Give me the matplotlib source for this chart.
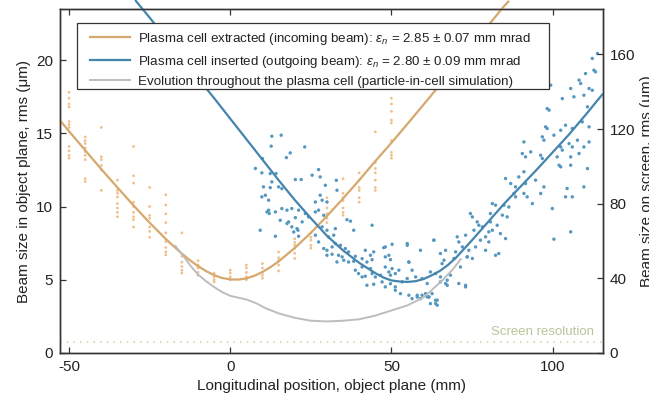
import matplotlib
matplotlib.use("Agg")
import matplotlib.pyplot as plt
from matplotlib.patches import Rectangle
from matplotlib.lines import Line2D
import numpy as np

plt.rcParams['font.family'] = ['Liberation Sans', 'DejaVu Sans']
plt.rcParams['mathtext.fontset'] = 'custom'
plt.rcParams['mathtext.rm'] = 'Liberation Sans'
plt.rcParams['mathtext.it'] = 'Liberation Sans:italic'
plt.rcParams['axes.unicode_minus'] = False

# ---------------- data (object-plane units, um) ----------------
# incoming beam (plasma cell extracted): measured spot sizes in columns
orange_pos = ([-50]*11 + [-45]*9 + [-40]*6 + [-35]*8 + [-30]*9 + [-25]*7 + [-20]*9 +
              [-15]*6 + [-10]*5 + [-5]*4 + [0]*4 + [5]*5 + [10]*5 + [15]*5 + [20]*6 +
              [25]*5 + [30]*6 + [35]*7 + [40]*6 + [45]*7 + [50]*9)
orange_size = [17.8, 17.4, 17.0, 16.8, 15.8, 15.6, 15.4, 14.1, 13.8, 13.5, 13.3,
               14.75, 14.5, 14.3, 14.0, 13.75, 13.5, 13.2, 11.9, 11.7,
               15.4, 13.4, 13.2, 12.8, 12.5, 11.1,
               11.8, 11.1, 10.9, 10.65, 10.2, 9.9, 9.6, 9.3,
               14.1, 12.1, 11.6, 10.3, 10.0, 9.6, 9.3, 9.1, 8.6,
               11.3, 10.0, 9.4, 9.2, 8.6, 8.3, 7.9,
               10.8, 10.1, 9.5, 8.9, 8.2, 7.6, 7.2, 6.9, 6.7,
               8.2, 6.6, 6.2, 5.9, 5.65, 5.45,
               6.3, 6.0, 5.8, 5.5, 5.3,
               5.45, 5.2, 5.0, 4.85,
               5.65, 5.45, 5.2, 5.0,
               6.0, 5.8, 5.5, 5.2, 5.0,
               6.1, 5.8, 5.5, 5.3, 5.1,
               6.9, 6.5, 6.3, 6.0, 5.6,
               7.8, 7.55, 7.35, 7.15, 6.8, 6.45,
               8.2, 7.9, 7.7, 7.35, 7.15,
               10.6, 10.3, 9.9, 9.5, 9.2, 8.9,
               11.9, 10.9, 10.6, 10.4, 9.9, 9.6, 9.4,
               12.3, 11.8, 11.3, 11.1, 10.6, 10.3,
               15.1, 13.0, 12.6, 12.3, 11.8, 11.3, 11.1,
               17.4, 17.0, 16.5, 15.9, 15.7, 14.5, 13.7, 13.5, 13.3]

# outgoing beam (plasma cell inserted): measured spot sizes
blue_pos = [12.9, 15.8, 12.7, 23.1, 18.6, 17.4, 10.0, 7.8, 9.8, 12.4, 14.2, 27.4, 25.4, 27.9,
            20.2, 22.0, 32.9, 12.9, 10.3, 12.4, 15.0, 16.0, 29.5, 33.1, 9.8, 10.9, 11.9, 27.9,
            28.5, 26.4, 30.0, 11.9, 14.0, 16.0, 17.6, 19.1, 21.2, 26.4, 27.4, 23.3, 20.2, 29.0,
            15.5, 18.1, 22.3, 24.3, 36.2, 37.3, 9.3, 19.1, 20.7, 19.7, 21.0, 28.5, 30.0, 32.6,
            38.3, 44.0, 14.0, 21.2, 26.4, 30.5, 32.1, 34.2, 27.4, 29.0, 30.0, 31.6, 32.6, 35.7,
            36.7, 41.9, 44.5, 47.6, 50.2, 30.0, 31.6, 33.6, 34.7, 38.8, 40.9, 43.5, 49.2, 54.9,
            33.1, 35.2, 36.7, 38.3, 42.4, 44.0, 49.7, 40.9, 43.5, 48.1, 50.2, 55.4, 38.8, 39.8,
            40.9, 41.9, 44.0, 45.0, 46.6, 49.2, 51.2, 56.4, 42.4, 44.5, 47.1, 48.1, 49.7, 51.2,
            53.3, 54.9, 57.5, 59.5, 51.2, 52.8, 55.4, 56.4, 58.0, 59.5, 60.6, 61.6,
            11.4, 12.1, 17.6,
            113.9, 112.3, 112.8, 113.3, 110.2, 108.2, 108.7, 111.3, 112.3, 105.6, 99.4, 106.6,
            109.7, 103.0, 98.3, 98.9, 110.8, 97.8, 98.3, 102.5, 104.0, 106.1, 109.2, 111.3,
            96.8, 97.3, 100.4, 91.1, 93.2, 90.6, 91.6, 96.3, 96.8, 102.5, 103.0, 105.1, 106.1,
            107.7, 109.7, 111.3, 101.4, 102.0, 102.5, 105.6, 105.6, 108.2, 110.8, 85.4, 87.0,
            88.5, 89.5, 91.1, 91.6, 88.0, 91.1, 94.7, 97.3, 96.3, 92.1, 93.7, 88.5, 104.5, 104.0,
            106.1, 109.7, 99.9, 81.3, 82.3, 80.7, 84.9, 86.4, 84.4, 85.9, 74.5, 75.1, 76.6, 77.1,
            78.2, 75.6, 80.7, 82.8, 80.2, 81.3, 83.8, 85.4, 105.6, 100.4, 70.4, 73.0, 70.9, 72.0,
            69.9, 74.0, 76.1, 73.5, 75.1, 69.4, 66.8, 65.2, 66.3, 65.7, 63.7, 65.2, 67.3, 68.3,
            70.9, 73.0, 66.8, 61.1, 62.6, 61.6, 62.1, 63.7, 64.2, 63.2, 79.2, 82.3, 83.3, 77.6,
            79.2, 80.2,
            62.1, 65.2, 67.3, 73.0, 71.4, 73.5, 63.1, 59.0, 55.4, 52.3, 49.7, 58.0, 59.0, 61.1,
            63.7, 64.2, 54.9, 48.1, 48.1]
blue_size = [14.8, 14.87, 14.12, 14.07, 13.66, 13.34, 13.27, 12.6, 12.3, 12.25, 12.25, 12.52,
             12.14, 12.02, 11.84, 11.84, 11.79, 11.68, 11.34, 11.29, 11.34, 11.22, 11.45, 11.11,
             10.66, 10.77, 10.43, 10.77, 10.43, 10.31, 10.31, 9.75, 9.63, 9.86, 9.75, 9.86, 9.75,
             9.63, 9.75, 9.52, 9.24, 9.40, 9.06, 8.95, 8.95, 9.29, 9.1, 9.0, 8.38, 8.61, 8.49,
             8.26, 8.38, 8.61, 8.38, 8.49, 8.38, 8.72, 7.97, 7.97, 8.04, 7.92, 8.04, 7.35, 7.58,
             7.13, 7.01, 7.24, 7.47, 7.13, 6.9, 7.01, 6.9, 7.19, 7.42, 6.67, 6.74, 6.67, 6.56,
             6.6, 6.44, 6.67, 6.67, 7.35, 6.21, 6.33, 6.21, 6.26, 6.21, 6.37, 6.37, 5.87, 5.76,
             5.87, 5.76, 6.21, 5.65, 5.42, 5.19, 5.24, 5.42, 5.19, 5.31, 5.53, 5.42, 5.65, 4.62,
             4.69, 4.85, 4.51, 4.73, 4.51, 4.85, 5.08, 5.19, 5.08, 4.28, 4.05, 3.94, 3.71, 3.82,
             3.94, 4.05, 3.82,
             9.63, 9.52, 8.84,
             20.45, 20.11, 19.31, 19.2, 19.08, 18.63, 18.4, 18.06, 17.94, 18.06, 18.29, 17.49,
             17.6, 17.37, 16.69, 16.58, 16.81, 15.44, 15.33, 15.21, 15.55, 15.33, 15.78, 15.44,
             14.76, 14.53, 14.87, 14.41, 13.73, 13.62, 13.39, 13.5, 13.28, 14.07, 13.85, 14.3,
             14.07, 14.53, 14.07, 14.41, 13.39, 12.82, 12.71, 13.39, 12.82, 13.62, 12.59, 11.91,
             11.57, 11.34, 12.02, 12.37, 11.57, 10.89, 10.89, 11.8, 11.34, 10.89, 10.66, 10.2,
             10.66, 11.23, 10.66, 10.66, 11.34, 9.86, 10.2, 10.09, 9.52, 10.09, 9.97, 9.41, 9.29,
             9.52, 9.29, 8.95, 8.72, 8.61, 8.38, 8.95, 8.72, 8.27, 8.38, 8.15, 7.81, 8.27, 7.77,
             7.93, 8.04, 7.58, 7.24, 6.9, 7.01, 7.24, 6.56, 6.45, 6.45, 7.01, 6.79, 6.33, 6.1,
             5.42, 5.19, 4.97, 5.31, 4.74, 4.51, 4.74, 4.74, 4.05, 3.83, 3.37, 3.6, 3.26, 7.7,
             7.01, 6.67, 6.79, 7.7, 7.93, 7.58,
             5.53, 4.85, 4.62, 4.62, 5.87, 6.56, 7.7, 7.01, 6.2, 5.65, 5.31, 3.94, 3.71, 3.83,
             3.37, 3.6, 7.47, 7.24, 6.56]

# fitted envelopes
fit_in_pos = [-52.8, -50, -45, -40, -35, -30, -25, -20, -15, -12.5, -10, -7.5, -5, -2.5, 0, 2.5,
              5, 7.5, 10, 12.5, 15, 20, 25, 30, 35, 40, 45, 50, 55, 60, 65, 70, 75, 80, 85, 86.5]
fit_in_size = [15.88, 15.14, 13.84, 12.55, 11.3, 10.07, 8.89, 7.78, 6.78, 6.33, 5.93, 5.59, 5.31,
               5.12, 5.02, 5.01, 5.09, 5.27, 5.53, 5.86, 6.25, 7.17, 8.2, 9.35, 10.55, 11.8, 13.1,
               14.35, 15.65, 16.97, 18.3, 19.65, 21.0, 22.36, 23.7, 24.05]
fit_out_pos = [-29.5, -25, -20, -15, -10, -5, 0, 5, 10, 15, 20, 25, 30, 35, 40, 45, 47.5, 50,
               52.5, 55, 57.5, 60, 62.5, 65, 67.5, 70, 75, 80, 85, 90, 95, 100, 105, 110, 115.6]
fit_out_size = [24.1, 22.9, 21.5, 20.1, 18.75, 17.4, 16.0, 14.6, 13.2, 11.8, 10.45, 9.2, 8.0, 7.0,
                6.15, 5.45, 5.15, 4.95, 4.88, 4.85, 4.9, 5.05, 5.3, 5.6, 6.0, 6.5, 7.7, 8.95, 10.2,
                11.35, 12.5, 13.7, 14.9, 16.2, 17.7]
pic_pos = [-17, -15, -12.5, -10, -7.5, -5, -2.5, 0, 5, 8, 11, 15, 20, 25, 30, 35, 40, 45, 50, 55,
           60, 63, 66, 69, 71.5]
pic_size = [7.3, 6.75, 6.0, 5.35, 4.9, 4.5, 4.15, 3.9, 3.65, 3.4, 3.05, 2.7, 2.4, 2.2, 2.15, 2.2,
            2.3, 2.55, 2.9, 3.25, 3.8, 4.4, 5.0, 5.7, 6.4]
screen_resolution = 0.73
magnification = 7.85

labels = ["Plasma cell extracted (incoming beam): $\\epsilon_n$ = 2.85 ± 0.07 mm mrad",
          "Plasma cell inserted (outgoing beam): $\\epsilon_n$ = 2.80 ± 0.09 mm mrad",
          "Evolution throughout the plasma cell (particle-in-cell simulation)"]

# ---------------- styling ----------------
c_or_line = '#D6A86E'
c_or_dot = '#F0C08A'
c_bl_line = '#4585AD'
c_bl_dot = '#5597C0'
c_gray = '#BDBDBD'
c_axis = '#333333'
c_text = '#222222'

fig = plt.figure(figsize=(6.49, 3.97), dpi=100)
ax = fig.add_axes([0.0925, 0.111, 0.8365, 0.866])
xlim = (-52.8, 115.6)
ylim = (0, 23.48)

ax.axhline(screen_resolution, color='#CBD9B3', lw=1.2, ls=(0, (1, 3)), zorder=1)
ax.text(112.7, 1.45, "Screen resolution", color='#B3C79A', fontsize=9.5,
        ha='right', va='center')

ax.scatter(orange_pos, orange_size, s=4, color=c_or_dot, edgecolors='none', zorder=2)
ax.scatter(blue_pos, blue_size, s=6, color=c_bl_dot, edgecolors='none', zorder=2)

l1, = ax.plot(fit_in_pos, fit_in_size, color=c_or_line, lw=1.6, clip_on=False, zorder=3,
              solid_capstyle='butt')
l2, = ax.plot(fit_out_pos, fit_out_size, color=c_bl_line, lw=1.6, clip_on=False, zorder=3,
              solid_capstyle='butt')
l3, = ax.plot(pic_pos, pic_size, color=c_gray, lw=1.4, zorder=3)

ax.set_xlim(*xlim)
ax.set_ylim(*ylim)
ax.set_xticks([-50, 0, 50, 100])
ax.set_yticks([0, 5, 10, 15, 20])
ax.tick_params(axis='both', direction='in', length=4, width=0.9, color=c_axis,
               labelsize=11, labelcolor=c_text, top=True, right=False, pad=5)
for s in ax.spines.values():
    s.set_color(c_axis)
    s.set_linewidth(1.0)
ax.set_xlabel("Longitudinal position, object plane (mm)", fontsize=11, color=c_text, labelpad=4)
ax.set_ylabel("Beam size in object plane, rms (μm)", fontsize=11, color=c_text, labelpad=4)

ax2 = ax.twinx()
ax2.set_ylim(ylim[0] * magnification, ylim[1] * magnification)
ax2.set_yticks([0, 40, 80, 120, 160])
ax2.tick_params(axis='y', direction='in', length=4, width=0.9, color=c_axis,
                labelsize=11, labelcolor=c_text, pad=5)
for s in ax2.spines.values():
    s.set_color(c_axis)
    s.set_linewidth(1.0)
ax2.set_ylabel("Beam size on screen, rms (μm)", fontsize=11, color=c_text, labelpad=3)

# legend drawn as a framed box in axes coordinates
box = Rectangle((0.0313, 0.7674), 0.8693, 0.1919, transform=ax2.transAxes,
                facecolor='white', edgecolor=c_axis, lw=0.9, zorder=20, clip_on=False)
ax2.add_patch(box)
row_y = [0.9195, 0.8532, 0.7936]
for line, lab, yy in zip([l1, l2, l3], labels, row_y):
    ax2.add_line(Line2D([0.0552, 0.1289], [yy, yy], transform=ax2.transAxes,
                        color=line.get_color(), lw=line.get_linewidth(), zorder=21))
    ax2.text(0.1436, yy, lab, transform=ax2.transAxes, fontsize=9.6, color=c_text,
             ha='left', va='center_baseline', zorder=22)

fig.savefig("out.png", dpi=100)
